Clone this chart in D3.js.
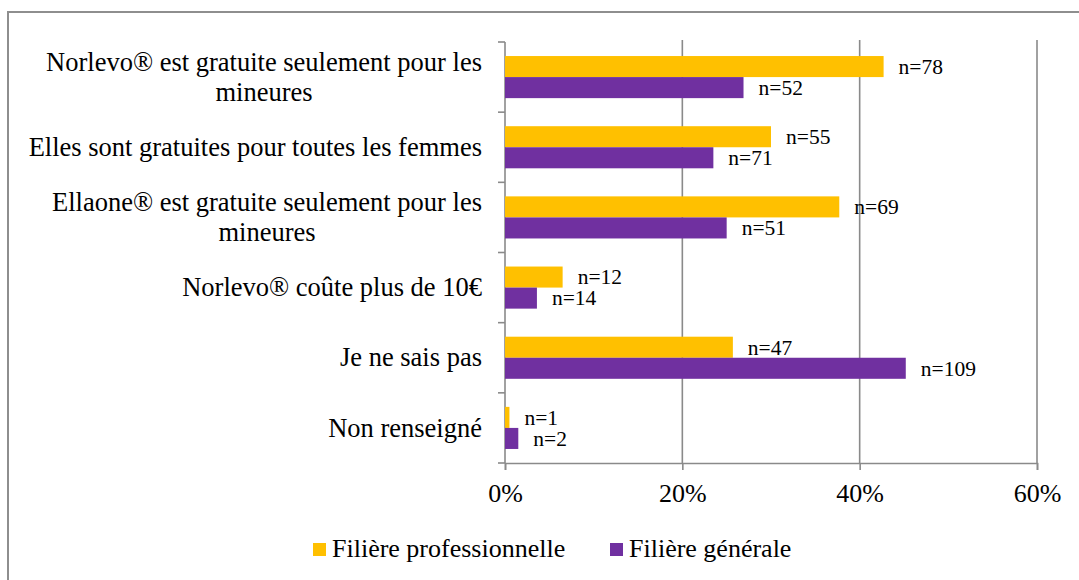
<!DOCTYPE html>
<html>
<head>
<meta charset="utf-8">
<script src="https://cdn.jsdelivr.net/npm/d3@7"></script>
<style>
  html, body { margin: 0; padding: 0; background: #fff; }
  svg { display: block; }
  text { font-family: "Liberation Serif", "Times New Roman", serif; fill: #000; }
</style>
</head>
<body>
<svg id="chart" width="1079" height="580"></svg>
<script>
// ---- data ----
const categories = [
  "Norlevo® est gratuite seulement pour les mineures",
  "Elles sont gratuites pour toutes les femmes",
  "Ellaone® est gratuite seulement pour les mineures",
  "Norlevo® coûte plus de 10€",
  "Je ne sais pas",
  "Non renseigné"
];
const seriesNames = ["Filière professionnelle", "Filière générale"];
const proValues = [42.7, 30.0, 37.7, 6.5, 25.7, 0.5];
const genValues = [26.9, 23.5, 25.0, 3.6, 45.2, 1.5];
const proCounts = [78, 55, 69, 12, 47, 1];
const genCounts = [52, 71, 51, 14, 109, 2];
const xTicks = [0, 20, 40, 60];
const colors = ["#FFC000", "#7030A0"];

const svg = d3.select("#chart");

// outer frame
svg.append("rect")
  .attr("x", 8).attr("y", 12).attr("width", 1200).attr("height", 700)
  .attr("fill", "none").attr("stroke", "#8e8e8e").attr("stroke-width", 2);

const x = d3.scaleLinear().domain([0, 60]).range([505, 1037]);
const y = d3.scaleBand().domain(categories).range([42, 463]).padding(0);
const groupFrac = 0.6;
const sub = d3.scaleBand().domain(seriesNames).padding(0);

// gridlines
svg.append("g").selectAll("line").data(xTicks.filter(t => t > 0)).join("line")
  .attr("x1", d => x(d)).attr("x2", d => x(d))
  .attr("y1", 40).attr("y2", 463)
  .attr("stroke", "#8a8a8a").attr("stroke-width", 1.6);

// x axis
const xAxis = svg.append("g").attr("transform", "translate(0,463)")
  .call(d3.axisBottom(x).tickValues(xTicks).tickFormat(d => d + "%").tickSize(7).tickPadding(14));
xAxis.select(".domain").attr("stroke", "#8a8a8a").attr("stroke-width", 1.6);
xAxis.selectAll(".tick line").attr("stroke", "#8a8a8a").attr("stroke-width", 1.6);
xAxis.selectAll(".tick text").style("font-family", "'Liberation Serif', 'Times New Roman', serif").style("font-size", "26px").attr("fill", "#000");

// y axis (ticks at band boundaries)
const yAxisG = svg.append("g");
yAxisG.append("line").attr("x1", 505).attr("x2", 505).attr("y1", 42).attr("y2", 463)
  .attr("stroke", "#8a8a8a").attr("stroke-width", 1.6);
const bounds = categories.map(c => y(c)).concat([y.range()[1]]);
yAxisG.selectAll("line.tk").data(bounds).join("line").attr("class", "tk")
  .attr("x1", 498).attr("x2", 505).attr("y1", d => d).attr("y2", d => d)
  .attr("stroke", "#8a8a8a").attr("stroke-width", 1.6);

// bars
const rows = categories.map((c, i) => ({
  c, vals: [proValues[i], genValues[i]], counts: [proCounts[i], genCounts[i]]
}));
const groups = svg.append("g").selectAll("g").data(rows).join("g")
  .attr("transform", d => {
    const bw = y.bandwidth();
    return `translate(0,${y(d.c) + bw * (1 - groupFrac) / 2})`;
  });
sub.range([0, y.bandwidth() * groupFrac]);
groups.selectAll("rect").data(d => d.vals.map((v, k) => ({ v, k, s: seriesNames[k], n: d.counts[k] })))
  .join("rect")
  .attr("x", x(0)).attr("y", d => sub(d.s))
  .attr("width", d => x(d.v) - x(0)).attr("height", sub.bandwidth())
  .attr("fill", d => colors[d.k]);
groups.selectAll("text").data(d => d.vals.map((v, k) => ({ v, k, s: seriesNames[k], n: d.counts[k] })))
  .join("text")
  .attr("x", d => x(d.v) + 15)
  .attr("y", d => sub(d.s) + sub.bandwidth() / 2)
  .attr("dy", "0.34em")
  .style("font-size", "21.5px")
  .text(d => "n=" + d.n);

// category labels with wrapping, block right-aligned, lines centered
const labelRight = 482;
const maxW = 470;
const lh = 30;
categories.forEach(c => {
  const cy = y(c) + y.bandwidth() / 2;
  const t = svg.append("text").style("font-size", "26.5px").attr("text-anchor", "middle");
  const words = c.split(" ");
  const lines = [];
  let cur = [];
  const probe = svg.append("text").style("font-size", "26.5px");
  words.forEach(w => {
    const test = cur.concat([w]).join(" ");
    probe.text(test);
    if (probe.node().getComputedTextLength() > maxW && cur.length) {
      lines.push(cur.join(" "));
      cur = [w];
    } else cur.push(w);
  });
  lines.push(cur.join(" "));
  let widest = 0;
  lines.forEach(l => { probe.text(l); widest = Math.max(widest, probe.node().getComputedTextLength()); });
  probe.remove();
  const cx = labelRight - widest / 2;
  const n = lines.length;
  lines.forEach((l, i) => {
    t.append("tspan").attr("x", cx)
      .attr("y", cy + (i - (n - 1) / 2) * lh)
      .attr("dy", "0.33em")
      .text(l);
  });
});

// legend
const legendItems = [{ name: seriesNames[0], x: 313 }, { name: seriesNames[1], x: 610 }];
const lg = svg.append("g").selectAll("g").data(legendItems).join("g");
lg.append("rect").attr("x", d => d.x).attr("y", 543).attr("width", 13).attr("height", 13)
  .attr("fill", (d, i) => colors[i]);
lg.append("text").attr("x", d => d.x + 19).attr("y", 557).style("font-size", "26px").text(d => d.name);
</script>
</body>
</html>
